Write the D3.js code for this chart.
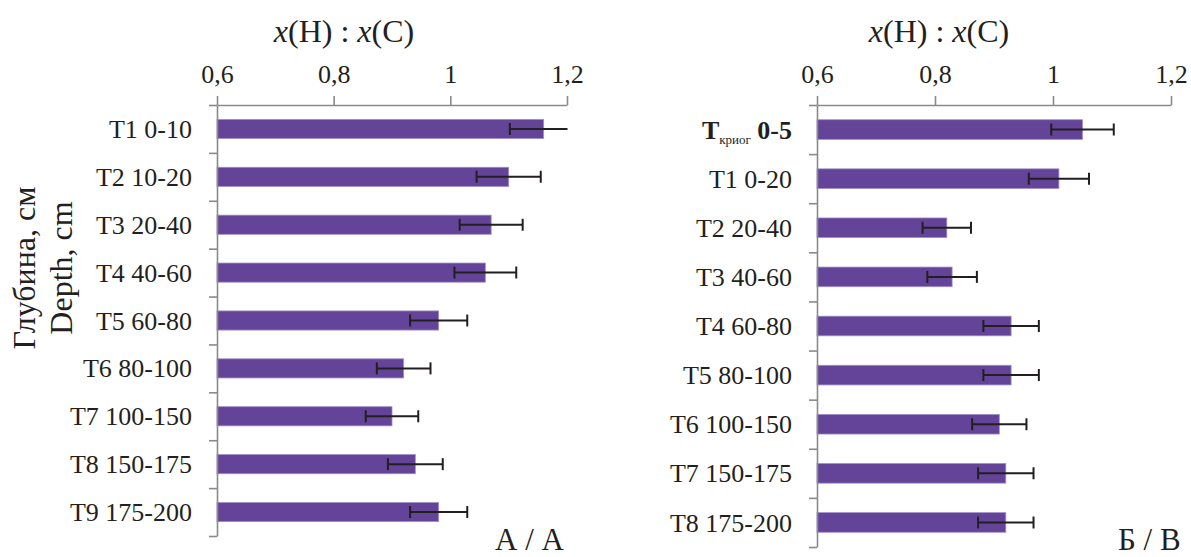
<!DOCTYPE html>
<html><head><meta charset="utf-8">
<script src="https://cdn.jsdelivr.net/npm/d3@7"></script>
<style>
body{margin:0;background:#fff;}
svg text{font-family:"Liberation Serif","DejaVu Serif",serif;fill:#231f20;}
</style></head>
<body><svg id="c" width="1191" height="557"></svg>
<script>
// ---- data ----
const tickValues = [0.6, 0.8, 1, 1.2];
const tickLabels = ["0,6", "0,8", "1", "1,2"];

const catsA = ["T1 0-10","T2 10-20","T3 20-40","T4 40-60","T5 60-80","T6 80-100","T7 100-150","T8 150-175","T9 175-200"];
const valsA = [1.16, 1.10, 1.07, 1.06, 0.98, 0.92, 0.90, 0.94, 0.98];
const errA  = [0.058, 0.055, 0.054, 0.053, 0.049, 0.046, 0.045, 0.047, 0.049];

const catsB = ["Tкриог 0-5","T1 0-20","T2 20-40","T3 40-60","T4 60-80","T5 80-100","T6 100-150","T7 150-175","T8 175-200"];
const valsB = [1.05, 1.01, 0.82, 0.829, 0.929, 0.929, 0.909, 0.92, 0.92];
const errB  = [0.053, 0.051, 0.041, 0.042, 0.047, 0.047, 0.046, 0.047, 0.047];

const FONT = '"Liberation Serif","DejaVu Serif",serif';
const svg = d3.select("#c");
const axisColor = "#8a8a8a";
const barColor = "#634498";

function panel(cfg){
  const g = svg.append("g");
  const x = d3.scaleLinear().domain([0.6,1.2]).range([cfg.x0, cfg.x1]);
  const y = d3.scaleBand().domain(cfg.cats).range([cfg.y0, cfg.y1]).paddingInner(0.6).paddingOuter(0.3);
  const yIdx = d3.scaleLinear().domain([0, cfg.cats.length]).range([cfg.y0, cfg.y1]);

  const clipId = "clip" + cfg.id;
  svg.append("clipPath").attr("id", clipId).append("rect")
    .attr("x", cfg.x0 - 20).attr("y", cfg.y0).attr("width", cfg.x1 - cfg.x0 + 20.5).attr("height", cfg.y1 - cfg.y0);

  g.selectAll("rect.bar").data(cfg.vals).join("rect").attr("class","bar")
    .attr("x", x(0.6)).attr("y", (d,i)=>y(cfg.cats[i]))
    .attr("width", d=>x(d)-x(0.6)).attr("height", y.bandwidth())
    .attr("fill", barColor).attr("stroke", "#a08fcc").attr("stroke-width", 0.8);

  const eg = g.append("g").attr("clip-path", `url(#${clipId})`)
    .attr("stroke", "#231f20").attr("stroke-width", 2);
  cfg.vals.forEach((v,i)=>{
    const cy = y(cfg.cats[i]) + y.bandwidth()/2;
    const lo = x(v - cfg.errs[i]), hi = x(v + cfg.errs[i]);
    eg.append("line").attr("x1", lo).attr("x2", hi).attr("y1", cy).attr("y2", cy);
    eg.append("line").attr("x1", lo).attr("x2", lo).attr("y1", cy-6).attr("y2", cy+6);
    eg.append("line").attr("x1", hi).attr("x2", hi).attr("y1", cy-6).attr("y2", cy+6);
  });

  const ax = g.append("g").attr("transform", `translate(0,${cfg.y0})`)
    .call(d3.axisTop(x).tickValues(tickValues).tickFormat((d,i)=>tickLabels[i]).tickSize(9).tickSizeOuter(0).tickPadding(13));
  ax.attr("font-family", null).attr("font-size", null);
  ax.select(".domain").attr("stroke", axisColor).attr("stroke-width", 1.6);
  ax.selectAll(".tick line").attr("stroke", axisColor).attr("stroke-width", 1.6);
  ax.selectAll(".tick text").attr("font-size", 26).attr("fill", "#231f20").style("font-family", FONT);

  const ay = g.append("g").attr("transform", `translate(${cfg.x0},0)`)
    .call(d3.axisLeft(yIdx).ticks(cfg.cats.length).tickFormat("").tickSize(8).tickSizeOuter(0));
  ay.select(".domain").attr("stroke", axisColor).attr("stroke-width", 1.6);
  ay.selectAll(".tick line").attr("stroke", axisColor).attr("stroke-width", 1.6);

  cfg.cats.forEach((c,i)=>{
    const cy = y(c) + y.bandwidth()/2;
    const t = g.append("text").attr("x", cfg.x0 - 25).attr("y", cy).attr("dy", "0.35em")
      .attr("text-anchor", "end").attr("font-size", 26).style("font-family", FONT);
    if (c.startsWith("Tкриог")) {
      t.attr("font-weight", "bold");
      t.append("tspan").text("T");
      t.append("tspan").attr("font-size", 13).attr("font-weight", "normal").attr("dy", 5).text("криог");
      t.append("tspan").attr("dy", -5).text(" 0-5");
    } else {
      t.text(c);
    }
  });

  const tt = g.append("text").attr("x", cfg.titleX).attr("y", 42).attr("text-anchor", "middle").attr("font-size", 32).style("font-family", FONT);
  tt.append("tspan").attr("font-style", "italic").text("x");
  tt.append("tspan").text("(H) : ");
  tt.append("tspan").attr("font-style", "italic").text("x");
  tt.append("tspan").text("(C)");

  g.append("text").attr("x", cfg.labX).attr("y", 550).attr("font-size", 31).style("font-family", FONT).text(cfg.lab);
}

panel({id:"A", cats:catsA, vals:valsA, errs:errA, x0:217, x1:567, y0:105, y1:536, titleX:344, labX:495, lab:"А / А"});
panel({id:"B", cats:catsB, vals:valsB, errs:errB, x0:817, x1:1171, y0:105, y1:547, titleX:939, labX:1118, lab:"Б / В"});

svg.append("text").attr("transform", "translate(35,268) rotate(-90)").attr("text-anchor", "middle")
  .attr("font-size", 32).style("font-family", FONT).text("Глубина, см");
svg.append("text").attr("transform", "translate(72,268) rotate(-90)").attr("text-anchor", "middle")
  .attr("font-size", 32).style("font-family", FONT).text("Depth, cm");
</script></body></html>
